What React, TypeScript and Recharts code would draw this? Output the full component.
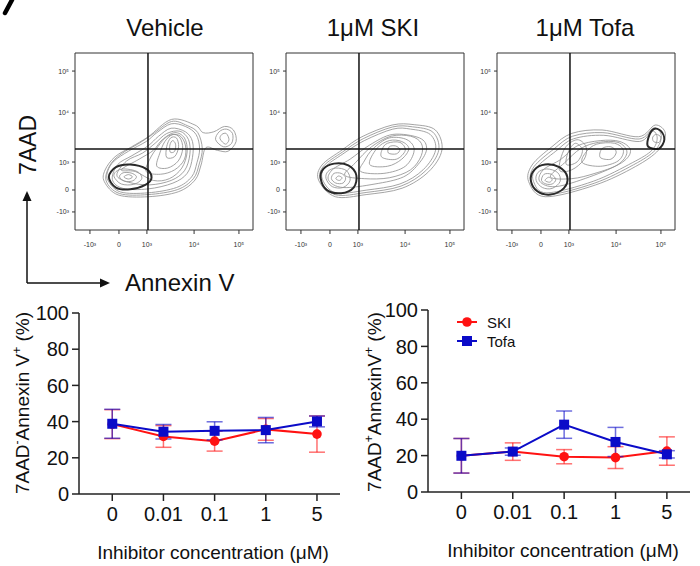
import React from "react";
import { ErrorBar, Line, LineChart, ReferenceArea, ReferenceLine, XAxis, YAxis } from "recharts";

const FONT = "'Liberation Sans', Arial, sans-serif";
const RED = "#ff1212";
const BLUE = "#0b0bc8";

// bottom dose-response panels
const concLabels = ["0", "0.01", "0.1", "1", "5"];
const doseTicks = [0, 1, 2, 3, 4];
const pctTicks = [0, 20, 40, 60, 80, 100];

const skiLive = [38.6, 31.8, 29.2, 35.7, 33.1];
const skiLiveErr = [8, 6, 5.5, 6, 10];
const tofaLive = [38.8, 34.4, 34.9, 35.3, 40.1];
const tofaLiveErr = [8, 4, 5, 7, 3];

const skiDead = [19.9, 22.2, 19.4, 18.9, 22.5];
const skiDeadErr = [9.5, 4.8, 3.9, 6, 7.8];
const tofaDead = [19.9, 22.2, 37, 27.5, 20.7];
const tofaDeadErr = [9.5, 2, 7.5, 8, 2];

// flow plots, biexponential display units 0..100
const flowXTicks = [8.4, 24.7, 40.4, 66.9, 92.1];
const flowYTicks = [10.2, 22.6, 38.4, 66.1, 89.8];
const flowTickLabels = ["-10³", "0", "10³", "10⁴", "10⁵"];
const gateX = 41;
const gateY = 45.8;

const vehicleLoops = [
  [[16.5, 27.3], [24.3, 19.8], [41.2, 18.8], [58, 21.6], [67.4, 28.2], [70.8, 36.7], [73.5, 46.5], [80, 45], [86, 44.5], [90.5, 50], [89, 56.5], [84, 58.5], [78, 55.5], [72, 55], [67.4, 59.3], [54.3, 62.5], [41.2, 52.7], [31.8, 47], [22.5, 41.4], [16.9, 33.9]],
  [[17.5, 27.8], [25, 20.6], [41, 20], [57.5, 22.8], [66.5, 29], [69.8, 37.3], [71.5, 46], [69, 55], [63, 59], [54.2, 61.3], [43.5, 54], [36, 49], [26, 43], [19.7, 36.7]],
  [[18.5, 28], [25.5, 21.5], [41, 21], [57, 24], [65.5, 30], [68.5, 38], [70, 46], [68, 54], [62, 58.5], [54, 60], [46, 55], [40, 50], [30, 44.5], [22, 39], [18.5, 33.5]],
  [[21, 28.5], [27, 23.5], [41, 23.2], [55, 26.5], [63, 32], [66, 41], [66, 50], [62, 55.5], [54, 57.5], [47, 53], [41, 47.5], [32, 42], [24, 37]],
  [[23.5, 31], [30, 27], [42, 25.5], [54, 28], [61.5, 33.5], [64.5, 42.5], [63.8, 51], [59, 55.8], [51.5, 54.5], [45, 49], [38, 43.5], [29, 39]],
  [[26, 34], [34, 33], [44, 28], [53, 29], [60, 35], [63, 44], [61.5, 52], [56, 55], [49, 51], [44, 45], [36, 40]],
  [[40, 33], [48, 31.5], [56, 34], [61.5, 40], [62, 48], [58.5, 53.5], [52, 53], [46.5, 47], [42, 40]],
  [[46, 36], [52, 35], [58, 39], [60.5, 46], [59, 52], [55, 54], [50.5, 50], [47.5, 43]],
  [[51.5, 41], [56, 41.5], [58.2, 47], [57, 52], [53.7, 52], [51.5, 47]],
  [[53.5, 44], [56, 44.5], [56.5, 48.5], [54.8, 50.5], [53.3, 48]],
  [[22, 30], [26, 26], [33, 25.8], [37.5, 29], [35, 33], [27.5, 34.5], [23, 33]],
  [[25, 30], [28, 27.5], [32.5, 27.8], [34.5, 30.2], [31.5, 32.2], [27, 32.3]],
  [[27.5, 30], [30, 28.8], [32.3, 30], [30, 31.3]],
  [[79, 51], [83.5, 47], [88, 49], [88.5, 54.5], [85, 57], [81, 55.5]],
  [[81.5, 51.5], [84.5, 48.5], [86.5, 51], [85, 54.5], [82.5, 54]],
];
const vehicleDark = [
  [[19, 30], [23, 24], [31, 23], [39.5, 25.5], [43, 29.5], [40, 34.5], [31, 37], [23, 35.5]],
];

const skiLoops = [
  [[18.3, 28.2], [27.7, 18.8], [45, 20], [65.2, 23.6], [80.1, 32.9], [87.6, 45.2], [83.9, 56.5], [72, 59.5], [59.6, 59.3], [42.7, 52.7], [31.5, 45.2], [20.2, 36.7]],
  [[19.4, 28.3], [27.8, 19.9], [45, 21.2], [64.6, 24.8], [78.5, 33.5], [85.8, 45.1], [82.5, 55.3], [71, 58.3], [59.8, 58.2], [43.4, 51.6], [31.8, 44.1], [21.1, 36.1]],
  [[20.5, 28.5], [28, 21], [45, 22.5], [64, 26], [77, 34], [84, 45], [81, 54], [70, 57], [60, 57], [44, 50.5], [32, 43], [22, 35.5]],
  [[24, 28], [32, 24], [50, 26], [66, 30], [75, 38], [79, 46], [75, 52], [60, 54], [47, 48], [36, 40], [26, 34]],
  [[33, 31], [44, 29], [58, 29.5], [70, 34], [76, 42], [76, 49], [70, 53], [59, 53], [48, 47], [39, 38]],
  [[42, 33], [55, 32], [67, 36], [72, 45], [68, 51], [58, 52], [49, 46], [44, 39]],
  [[47, 37], [57, 36], [65, 40], [69, 46], [65, 50], [58, 50.5], [51, 46]],
  [[54, 41], [62, 40], [67, 45], [64, 49.5], [57, 49], [54, 45.5]],
  [[57.5, 43.5], [62, 43], [64, 45.5], [61.5, 47.5], [58, 47]],
  [[22.5, 29], [26, 24.5], [32, 24], [36, 28], [34, 33.5], [28, 35], [23.5, 33]],
  [[25.5, 29], [28, 26.5], [32, 26.5], [33.5, 29.5], [31, 32], [27, 32]],
  [[28, 29], [30, 28], [31.5, 29.5], [29.5, 30.5]],
];
const skiDark = [
  [[19.5, 29], [23, 22.5], [31, 20.8], [38, 24], [39.5, 31], [35, 36.5], [27, 37.5], [21, 34.5]],
];

const tofaLoops = [
  [[17.8, 27.3], [27.1, 18.8], [55.2, 25.4], [77.7, 35.8], [90.8, 45.2], [94.6, 54.6], [88.9, 59.3], [79.6, 52.7], [59, 56.5], [42.1, 54.6], [30.9, 47.1], [19.7, 36.7]],
  [[19.2, 27.4], [27.5, 19.9], [54.6, 26.4], [76.8, 36.9], [88.9, 45.1], [92.3, 53.3], [88, 57.6], [79.8, 51.4], [59.5, 55], [42.5, 53], [32, 45.8], [20.8, 35.8]],
  [[20.5, 27.5], [28, 21], [54, 27.5], [76, 38], [87, 45], [90, 52], [87, 56], [80, 50], [60, 53.5], [43, 51.5], [33, 44.5], [22, 35]],
  [[24, 27.5], [33, 24.5], [52, 30], [70, 38], [75, 45], [69, 50], [58, 50.5], [45, 47.5], [36, 40], [26, 34]],
  [[30, 30], [42, 29], [55, 32], [68, 37], [73, 44], [68, 49.5], [57, 49.5], [47, 46], [38, 38]],
  [[48, 38], [58, 36], [68, 39], [71, 45], [66, 49], [56, 48.5], [50, 44]],
  [[58, 41], [64, 40], [67, 44], [64, 47], [59, 46]],
  [[35, 34], [42, 34], [49, 40], [50, 47], [45, 51], [38, 46]],
  [[39, 37], [45, 38.5], [48, 45], [44, 49], [40, 44]],
  [[88, 50], [91, 49.5], [92, 52.5], [89.5, 54], [87.5, 52.5]],
  [[22, 28], [25.5, 24], [31, 23.5], [35.5, 27.5], [34, 32.5], [28, 34.5], [23, 32.5]],
  [[25, 28], [27.5, 26], [31, 26], [33, 28.5], [30.5, 31.5], [26.5, 31.5]],
  [[27, 28], [29.5, 27], [31, 28.5], [29, 29.8]],
];
const tofaDark = [
  [[19, 28], [22.5, 22], [30, 20], [37.5, 23.5], [39.5, 30], [35, 35.5], [27, 37], [21, 34]],
  [[85, 47], [91, 46], [94, 51], [92, 56], [88, 57], [85, 52]],
];

// closed Catmull-Rom curve for contour rings
function closedSpline(context: any) {
  let pts: number[][] = [];
  return {
    areaStart() {},
    areaEnd() {},
    lineStart() {
      pts = [];
    },
    point(x: number, y: number) {
      pts.push([x, y]);
    },
    lineEnd() {
      const n = pts.length;
      if (n < 3) return;
      context.moveTo(pts[0][0], pts[0][1]);
      for (let i = 0; i < n; i++) {
        const p0 = pts[(i - 1 + n) % n];
        const p1 = pts[i];
        const p2 = pts[(i + 1) % n];
        const p3 = pts[(i + 2) % n];
        context.bezierCurveTo(
          p1[0] + (p2[0] - p0[0]) / 6,
          p1[1] + (p2[1] - p0[1]) / 6,
          p2[0] - (p3[0] - p1[0]) / 6,
          p2[1] - (p3[1] - p1[1]) / 6,
          p2[0],
          p2[1]
        );
      }
      context.closePath();
    },
  };
}

const toPts = (loop: number[][]) => loop.map(([x, y]) => ({ x, y }));
const flowLabel = (v: number, ticks: number[]) => flowTickLabels[ticks.indexOf(v)] ?? "";

function FlowPanel({ left, loops, dark }: { left: number; loops: number[][][]; dark: number[][][] }) {
  return (
    <div style={{ position: "absolute", left, top: 51 }}>
      <LineChart width={202} height={203} margin={{ top: 2, right: 2, left: 0, bottom: 0 }}>
        <XAxis
          type="number"
          dataKey="x"
          domain={[0, 100]}
          ticks={flowXTicks}
          interval={0}
          tickFormatter={(v) => flowLabel(v, flowXTicks)}
          height={24}
          axisLine={false}
          tickSize={4}
          tickMargin={8}
          stroke="#333"
          tick={{ fontSize: 7, fill: "#333" }}
          allowDataOverflow
        />
        <YAxis
          type="number"
          domain={[0, 100]}
          ticks={flowYTicks}
          interval={0}
          tickFormatter={(v) => flowLabel(v, flowYTicks)}
          width={22}
          axisLine={false}
          tickSize={3}
          tickMargin={3}
          stroke="#333"
          tick={{ fontSize: 7, fill: "#333" }}
          allowDataOverflow
        />
        <ReferenceArea x1={0} x2={100} y1={0} y2={100} fill="none" stroke="#333" strokeWidth={1} fillOpacity={0} />
        {loops.map((l, i) => (
          <Line
            key={"g" + i}
            data={toPts(l)}
            dataKey="y"
            type={closedSpline as any}
            dot={false}
            stroke="#949494"
            strokeWidth={0.85}
            isAnimationActive={false}
          />
        ))}
        {dark.map((l, i) => (
          <Line
            key={"d" + i}
            data={toPts(l)}
            dataKey="y"
            type={closedSpline as any}
            dot={false}
            stroke="#2a2a2a"
            strokeWidth={2}
            isAnimationActive={false}
          />
        ))}
        <ReferenceLine x={gateX} stroke="#111" strokeWidth={1.5} />
        <ReferenceLine y={gateY} stroke="#111" strokeWidth={1.5} />
      </LineChart>
    </div>
  );
}

type DoseRow = { i: number; ski: number; skiErr: number; tofa: number; tofaErr: number };

const buildRows = (ski: number[], skiErr: number[], tofa: number[], tofaErr: number[]): DoseRow[] =>
  concLabels.map((_, i) => ({ i, ski: ski[i], skiErr: skiErr[i], tofa: tofa[i], tofaErr: tofaErr[i] }));

const liveRows = buildRows(skiLive, skiLiveErr, tofaLive, tofaLiveErr);
const deadRows = buildRows(skiDead, skiDeadErr, tofaDead, tofaDeadErr);

const redDot = (p: any) => <circle key={"r" + p.index} cx={p.cx} cy={p.cy} r={4.8} fill={RED} />;
const blueDot = (p: any) => (
  <rect key={"b" + p.index} x={p.cx - 5} y={p.cy - 5} width={10} height={10} fill={BLUE} />
);

function DoseChart({
  rows,
  left,
  width,
  marginTop,
  marginRight,
  xHeight,
}: {
  rows: DoseRow[];
  left: number;
  width: number;
  marginTop: number;
  marginRight: number;
  xHeight: number;
}) {
  return (
    <div style={{ position: "absolute", left, top: 300 }}>
      <LineChart width={width} height={266} data={rows} margin={{ top: marginTop, right: marginRight, left: 0, bottom: 0 }}>
        <XAxis
          type="number"
          dataKey="i"
          domain={[-0.65, 4.45]}
          ticks={doseTicks}
          interval={0}
          tickFormatter={(v) => concLabels[v]}
          height={xHeight}
          tickSize={7}
          tickMargin={6}
          stroke="#222"
          strokeWidth={1.5}
          tick={{ fontSize: 20, fill: "#111" }}
          allowDataOverflow
        />
        <YAxis
          type="number"
          domain={[0, 100]}
          ticks={pctTicks}
          interval={0}
          width={79}
          tickSize={7}
          tickMargin={3}
          stroke="#222"
          strokeWidth={1.5}
          tick={{ fontSize: 20, fill: "#111" }}
        />
        <Line dataKey="ski" stroke={RED} strokeWidth={2} dot={redDot} isAnimationActive={false}>
          <ErrorBar dataKey="skiErr" direction="y" width={8} stroke={RED} strokeOpacity={0.6} strokeWidth={1.5} />
        </Line>
        <Line dataKey="tofa" stroke={BLUE} strokeWidth={2} dot={blueDot} isAnimationActive={false}>
          <ErrorBar dataKey="tofaErr" direction="y" width={8} stroke={BLUE} strokeOpacity={0.6} strokeWidth={1.5} />
        </Line>
      </LineChart>
    </div>
  );
}

export default function App() {
  return (
    <div style={{ position: "absolute", left: 0, top: 0, width: 700, height: 566, background: "#fff", fontFamily: FONT }}>
      <FlowPanel left={53} loops={vehicleLoops} dark={vehicleDark} />
      <FlowPanel left={264} loops={skiLoops} dark={skiDark} />
      <FlowPanel left={475} loops={tofaLoops} dark={tofaDark} />

      <DoseChart rows={liveRows} left={0} width={345} marginTop={13} marginRight={5} xHeight={72} />
      <DoseChart rows={deadRows} left={349} width={350} marginTop={10} marginRight={9} xHeight={74} />

      <svg width={700} height={566} style={{ position: "absolute", left: 0, top: 0, pointerEvents: "none" }} fontFamily={FONT}>
        <path d="M12 0 L5 13" stroke="#000" strokeWidth={4.5} strokeLinecap="round" fill="none" />
        <text x={165} y={36} fontSize={24} textAnchor="middle" fill="#111">Vehicle</text>
        <text x={373} y={36} fontSize={24} textAnchor="middle" fill="#111">1μM SKI</text>
        <text x={585} y={36} fontSize={24} textAnchor="middle" fill="#111">1μM Tofa</text>

        <text transform="translate(36 145) rotate(-90)" fontSize={23} textAnchor="middle" fill="#111">7AAD</text>
        <line x1={27} y1={283} x2={27} y2={200} stroke="#111" strokeWidth={1.5} />
        <polygon points="27,191 22.5,201 31.5,201" fill="#111" />
        <line x1={27} y1={283} x2={101} y2={283} stroke="#111" strokeWidth={1.5} />
        <polygon points="110,283 100,278.5 100,287.5" fill="#111" />
        <text x={125} y={291} fontSize={24} fill="#111">Annexin V</text>

        <text transform="translate(29 403) rotate(-90)" fontSize={19} textAnchor="middle" fill="#111">
          7AAD<tspan fontSize={12} dy={-8}>-</tspan>
          <tspan dy={8}>Annexin V</tspan>
          <tspan fontSize={12} dy={-8}>+</tspan>
          <tspan dy={8}> (%)</tspan>
        </text>
        <text transform="translate(381 402) rotate(-90)" fontSize={19} textAnchor="middle" fill="#111">
          7AAD<tspan fontSize={12} dy={-8}>+</tspan>
          <tspan dy={8}>AnnexinV</tspan>
          <tspan fontSize={12} dy={-8}>+</tspan>
          <tspan dy={8}> (%)</tspan>
        </text>

        <text x={213} y={559} fontSize={19} textAnchor="middle" fill="#111">Inhibitor concentration (μM)</text>
        <text x={563} y={557} fontSize={19} textAnchor="middle" fill="#111">Inhibitor concentration (μM)</text>

        <line x1={457} y1={322} x2={477} y2={322} stroke={RED} strokeWidth={2} />
        <circle cx={467} cy={322} r={4.8} fill={RED} />
        <text x={487} y={327.5} fontSize={15} fill="#111">SKI</text>
        <line x1={457} y1={341} x2={477} y2={341} stroke={BLUE} strokeWidth={2} />
        <rect x={462} y={336} width={10} height={10} fill={BLUE} />
        <text x={487} y={346.5} fontSize={15} fill="#111">Tofa</text>
      </svg>
    </div>
  );
}
